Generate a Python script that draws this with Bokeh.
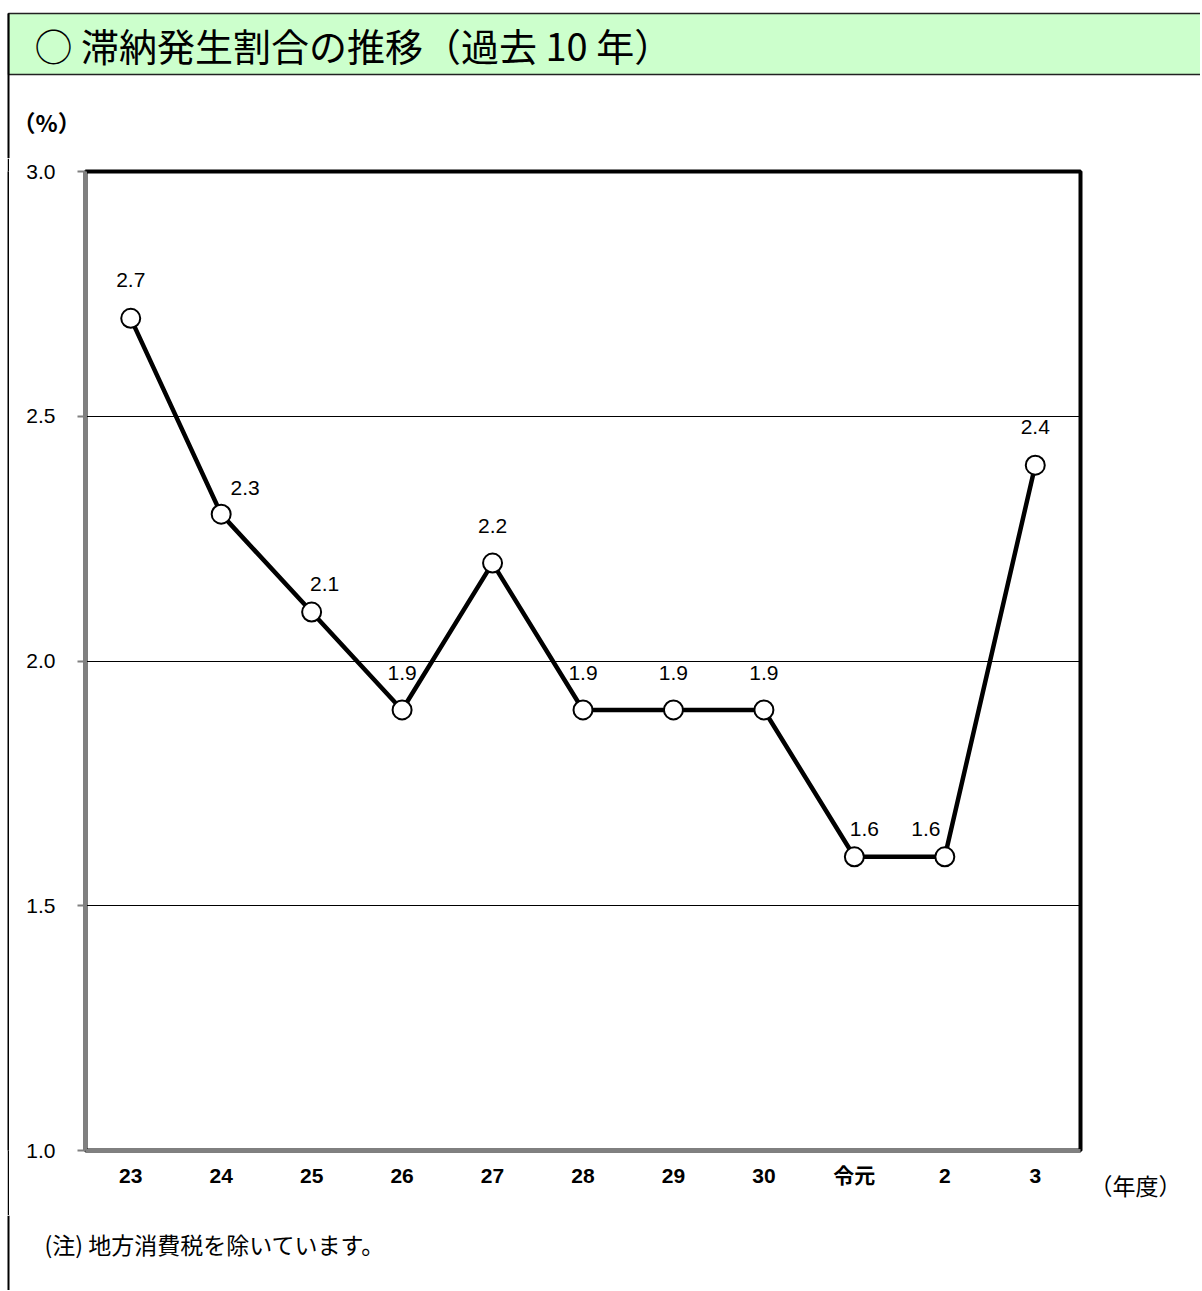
from bokeh.plotting import figure
from bokeh.models import (ColumnDataSource, FixedTicker, NumeralTickFormatter, Range1d,
                          FactorRange, Spacer)
from bokeh.layouts import column, row
from bokeh.embed import file_html
from bokeh.resources import INLINE
from bokeh.core.properties import value

# ---- data ----
years = ["23", "24", "25", "26", "27", "28", "29", "30", "令元", "2", "3"]
rates = [2.7, 2.3, 2.1, 1.9, 2.2, 1.9, 1.9, 1.9, 1.6, 1.6, 2.4]
y_ticks = [1.0, 1.5, 2.0, 2.5, 3.0]

title_text = "○ 滞納発生割合の推移（過去 10 年）"
y_unit = "（%）"
x_unit = "（年度）"
note_text = "(注) 地方消費税を除いています。"

# label placement (style, screen pixels)
label_dx = [0, 24, 13, 0, 0, 0, 0, 0, 10, -19, 0]
label_dy = [-38, -26, -28, -37, -37, -37, -37, -37, -28, -28, -38]

W, H = 1200, 1290
TOP_H, MID_H = 158, 1057
BOT_H = H - TOP_H - MID_H
M_W = 1078
R_W = 90
CJK = "Noto Sans CJK JP"


def deco(w, h, fill="white"):
    f = figure(width=w, height=h, x_range=Range1d(0, w), y_range=Range1d(h, 0),
               output_backend="svg", toolbar_location=None,
               x_axis_location=None, y_axis_location=None, min_border=0)
    f.outline_line_color = None
    f.grid.visible = False
    f.background_fill_color = fill
    f.border_fill_color = fill
    return f


# ---- top: header band, title, unit ----
top = deco(W, TOP_H)
top.quad(left=[8], right=[W + 20], top=[13], bottom=[74], fill_color="#ccffcc",
         line_color="#222222", line_width=1.5)
top.segment(x0=[8], y0=[13], x1=[8], y1=[TOP_H], line_color="black", line_width=2)
top.text(x=[34], y=[44], text=[title_text], text_font=value(CJK), text_font_size="38px",
         text_baseline="middle", text_align="left", text_color="black")
top.text(x=[12], y=[121], text=[y_unit], text_font=value(CJK), text_font_size="23px",
         text_font_style="bold", text_baseline="middle", text_align="left",
         text_color="black")

# ---- left outer border strip (a 2px figure filled black) ----
lpad = Spacer(width=7, height=MID_H)
lline = deco(2, MID_H, fill="black")
lpad2 = Spacer(width=3, height=MID_H)

# ---- main chart ----
src = ColumnDataSource(dict(
    year=years, rate=rates, label=[f"{v:.1f}" for v in rates],
    dx=label_dx, dy=label_dy))

p = figure(width=M_W, height=MID_H, x_range=FactorRange(factors=years),
           y_range=Range1d(1.0, 3.0), output_backend="svg", toolbar_location=None,
           min_border_left=73, min_border_right=10, min_border_top=13,
           min_border_bottom=65)
p.background_fill_color = "white"
p.border_fill_color = "white"
p.outline_line_color = "black"
p.outline_line_width = 4

yax = p.yaxis[0]
yax.ticker = FixedTicker(ticks=y_ticks)
yax.formatter = NumeralTickFormatter(format="0.0")
yax.major_tick_out = 8
yax.major_tick_in = 0
yax.minor_tick_line_color = None
yax.major_tick_line_color = "#808080"
yax.major_tick_line_width = 2
yax.axis_line_color = "#808080"
yax.axis_line_width = 3
yax.major_label_standoff = 22
yax.major_label_text_font = "Liberation Sans"
yax.major_label_text_font_size = "21px"
yax.major_label_text_color = "black"

xax = p.xaxis[0]
xax.major_tick_out = 0
xax.major_tick_in = 0
xax.major_tick_line_color = None
xax.minor_tick_line_color = None
xax.axis_line_color = "#808080"
xax.axis_line_width = 3
xax.major_label_standoff = 13
xax.major_label_text_font = "Liberation Sans, Noto Sans CJK JP"
xax.major_label_text_font_size = "21px"
xax.major_label_text_font_style = "bold"
xax.major_label_text_color = "black"

p.xgrid.grid_line_color = None
p.ygrid.ticker = FixedTicker(ticks=y_ticks)
p.ygrid.grid_line_color = "black"
p.ygrid.grid_line_width = 1

p.line(x="year", y="rate", source=src, line_width=4.5, line_color="black")
p.scatter(x="year", y="rate", source=src, size=19, marker="circle",
          fill_color="white", line_color="black", line_width=2)
p.text(x="year", y="rate", text="label", x_offset="dx", y_offset="dy", source=src,
       text_align="center", text_baseline="middle", text_font_size="21px",
       text_font=value("Liberation Sans"), text_color="black")

# ---- right strip: x unit as an axis label under an empty axis ----
rstrip = figure(width=R_W, height=MID_H, x_range=Range1d(0, 1), y_range=Range1d(0, 1),
                output_backend="svg", toolbar_location=None, y_axis_location=None,
                min_border=0)
rstrip.outline_line_color = None
rstrip.grid.visible = False
rstrip.background_fill_color = "white"
rstrip.border_fill_color = "white"
rax = rstrip.xaxis[0]
rax.ticker = FixedTicker(ticks=[])
rax.axis_line_color = None
rax.major_tick_line_color = None
rax.minor_tick_line_color = None
rax.major_label_text_font_size = "0px"
rax.axis_label = x_unit
rax.axis_label_text_font = CJK
rax.axis_label_text_font_size = "23px"
rax.axis_label_text_font_style = "normal"
rax.axis_label_text_color = "black"
rax.axis_label_standoff = 17

# ---- bottom: note ----
bot = deco(W, BOT_H)
bot.segment(x0=[8], y0=[0], x1=[8], y1=[BOT_H], line_color="black", line_width=2)
bot.text(x=[44], y=[1243 - TOP_H - MID_H], text=[note_text], text_font=value(CJK),
         text_font_size="23px", text_baseline="middle", text_align="left",
         text_color="black")

layout = column(top, row(lpad, lline, lpad2, p, rstrip, spacing=0), bot, spacing=0)
open("out.html", "w").write(file_html(layout, INLINE))
